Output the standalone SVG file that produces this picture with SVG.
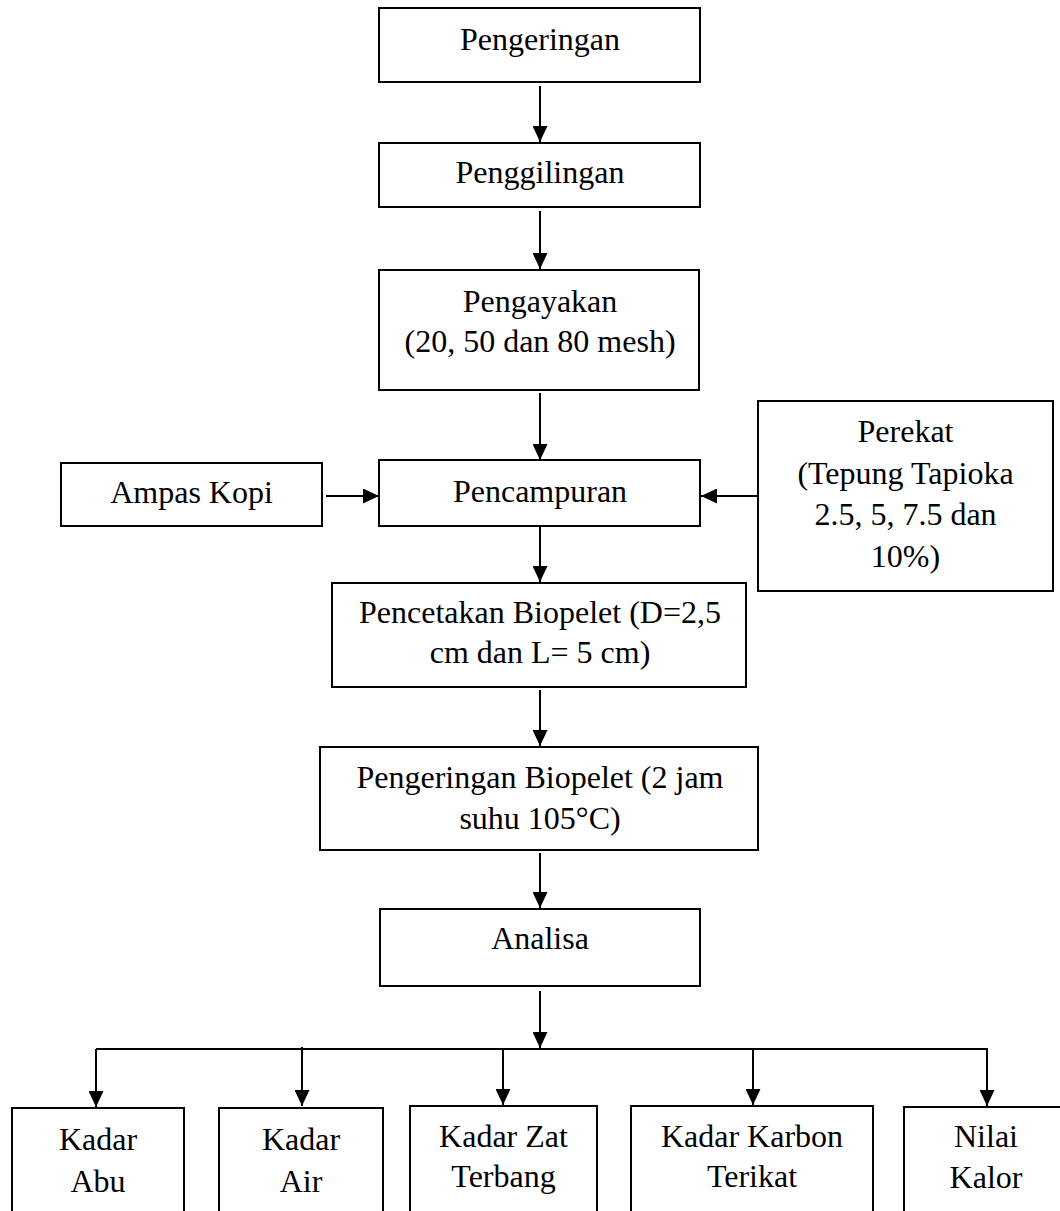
<svg xmlns="http://www.w3.org/2000/svg" width="1060" height="1211" viewBox="0 0 1060 1211">
<style>
.box rect{fill:#fff;stroke:#000;stroke-width:2}
.box text{font-family:"Liberation Serif","Times New Roman",serif;font-size:32px;fill:#000;text-anchor:middle}
.conn path{fill:none;stroke:#000;stroke-width:2}
</style>
<defs>
<marker id="ah" markerUnits="userSpaceOnUse" markerWidth="16" markerHeight="15" refX="16" refY="7.5" orient="auto">
<path d="M0,0 L16,7.5 L0,15 z" fill="#000"/>
</marker>
</defs>
<rect width="1060" height="1211" fill="#fff"/>
<g class="conn">
<path d="M540,86 V142" marker-end="url(#ah)"/>
<path d="M540,211 V269" marker-end="url(#ah)"/>
<path d="M540,393 V460" marker-end="url(#ah)"/>
<path d="M326,496 H379" marker-end="url(#ah)"/>
<path d="M758,496 H701" marker-end="url(#ah)"/>
<path d="M540,527 V582" marker-end="url(#ah)"/>
<path d="M540,690 V746" marker-end="url(#ah)"/>
<path d="M540,853 V908" marker-end="url(#ah)"/>
<path d="M540,991 V1048" marker-end="url(#ah)"/>
<path d="M96,1049 H987"/>
<path d="M96,1049 V1107" marker-end="url(#ah)"/>
<path d="M302,1047 V1106" marker-end="url(#ah)"/>
<path d="M503,1049 V1105" marker-end="url(#ah)"/>
<path d="M753,1049 V1105" marker-end="url(#ah)"/>
<path d="M987,1048 V1106" marker-end="url(#ah)"/>
</g>
<g id="pengeringan" class="box"><rect x="379" y="8" width="321" height="74"/><text x="540" y="50">Pengeringan</text></g>
<g id="penggilingan" class="box"><rect x="379" y="143" width="321" height="64"/><text x="540" y="183">Penggilingan</text></g>
<g id="pengayakan" class="box"><rect x="379" y="270" width="320" height="120"/><text x="540" y="312">Pengayakan</text><text x="540" y="352">(20, 50 dan 80 mesh)</text></g>
<g id="ampas" class="box"><rect x="61" y="463" width="261" height="63"/><text x="191.5" y="503">Ampas Kopi</text></g>
<g id="pencampuran" class="box"><rect x="379" y="460" width="321" height="66"/><text x="540" y="502">Pencampuran</text></g>
<g id="perekat" class="box"><rect x="758" y="401" width="295" height="190"/><text x="905.5" y="442">Perekat</text><text x="905.5" y="483.5">(Tepung Tapioka</text><text x="905.5" y="525">2.5, 5, 7.5 dan</text><text x="905.5" y="566.5">10%)</text></g>
<g id="pencetakan" class="box"><rect x="332" y="583" width="414" height="104"/><text x="540" y="623">Pencetakan Biopelet (D=2,5</text><text x="540" y="663">cm dan L= 5 cm)</text></g>
<g id="pengeringan-biopelet" class="box"><rect x="320" y="747" width="438" height="103"/><text x="540" y="788">Pengeringan Biopelet (2 jam</text><text x="540" y="829">suhu 105°C)</text></g>
<g id="analisa" class="box"><rect x="380" y="909" width="320" height="77"/><text x="540" y="949">Analisa</text></g>
<g id="kadar-abu" class="box"><rect x="12" y="1108" width="172" height="130"/><text x="98" y="1150">Kadar</text><text x="98" y="1192">Abu</text></g>
<g id="kadar-air" class="box"><rect x="219" y="1108" width="164" height="130"/><text x="301" y="1150">Kadar</text><text x="301" y="1192">Air</text></g>
<g id="kadar-zat" class="box"><rect x="410" y="1106" width="187" height="130"/><text x="503.5" y="1147">Kadar Zat</text><text x="503.5" y="1187">Terbang</text></g>
<g id="kadar-karbon" class="box"><rect x="631" y="1106" width="242" height="130"/><text x="752" y="1147">Kadar Karbon</text><text x="752" y="1187">Terikat</text></g>
<g id="nilai-kalor" class="box"><rect x="904" y="1107" width="170" height="130"/><text x="986" y="1147">Nilai</text><text x="986" y="1188">Kalor</text></g>
</svg>
